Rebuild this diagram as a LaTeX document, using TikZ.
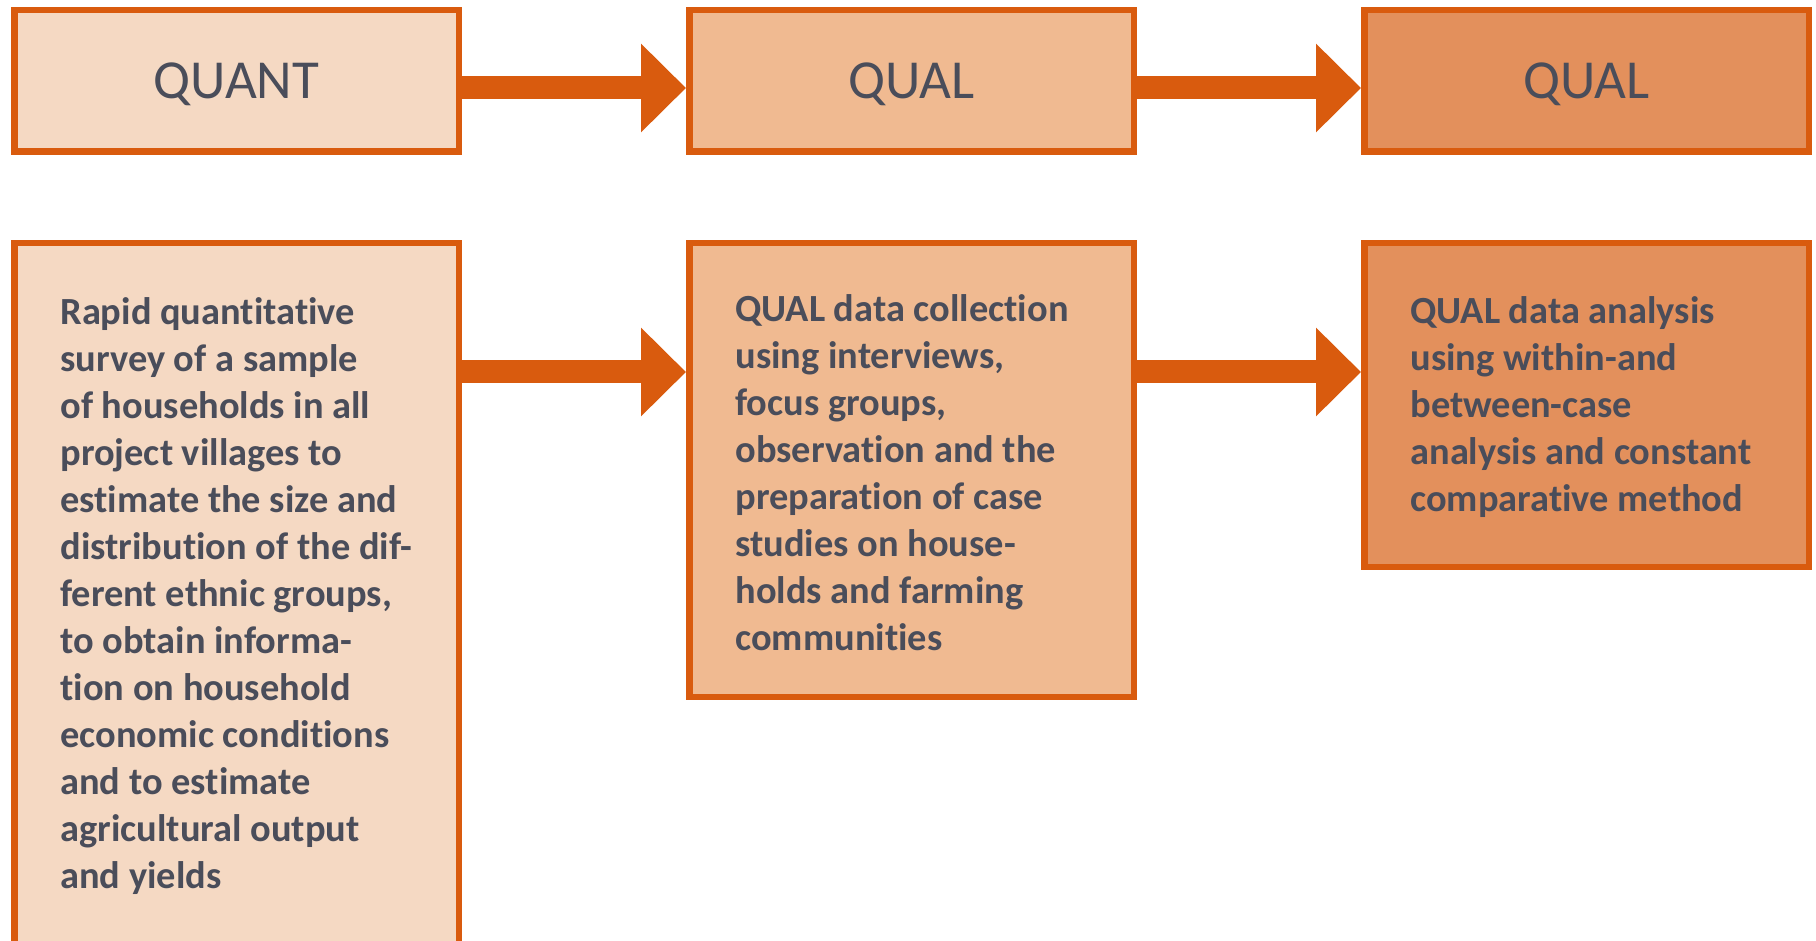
\documentclass[tikz,border=0pt]{standalone}
\usepackage{fontspec}
\setmainfont{Carlito}[Ligatures=NoCommon]
\usepackage{tikz}
\usetikzlibrary{arrows.meta,positioning}

\definecolor{borderorange}{RGB}{217,91,14}
\definecolor{quantfill}{RGB}{245,217,195}
\definecolor{qualfill}{RGB}{240,186,145}
\definecolor{analysisfill}{RGB}{227,144,92}
\definecolor{textgray}{RGB}{74,77,90}

\tikzset{
  phasebox/.style={draw=borderorange, line width=3.25pt, rectangle, inner sep=0pt,
    anchor=north west, minimum width=222.25pt},
  headbox/.style={phasebox, minimum height=70.75pt, text=textgray, text depth=0pt,
    font=\fontsize{27.5pt}{32pt}\selectfont},
  stepbody/.style={anchor=base west, inner sep=0pt, align=left, text=textgray,
    font=\bfseries\fontsize{19.2pt}{23.5pt}\selectfont},
  flowarrow/.style={draw=borderorange, line width=11.5pt,
    -{Triangle[length=22.5pt,width=43pt]}}
}

\begin{document}
\begin{tikzpicture}[x=0.5pt,y=-0.5pt]
\useasboundingbox (0,0) rectangle (1816,941);
\clip (0,0) rectangle (1816,941);
% top row
\node[headbox, fill=quantfill] (quant) at (11,7) {QUANT};
\node[headbox, fill=qualfill] (qualcoll) at (686,7) {QUAL};
\node[headbox, fill=analysisfill] (qualana) at (1361,7) {QUAL};
% bottom row
\node[phasebox, fill=quantfill, minimum height=381.25pt] (survey) at (11,240) {};
\node[phasebox, fill=qualfill, minimum height=226.75pt] (collect) at (686,240) {};
\node[phasebox, fill=analysisfill, minimum height=161.75pt] (analyse) at (1361,240) {};
% texts sit on the baseline of their last line
\node[stepbody] (surveytext) at ([xshift=24.5pt,yshift=-324pt]survey.north west) {
Rapid quantitative\\
survey of a sample\\
of households in all\\
project villages to\\
estimate the size and\\
distribution of the dif-\\
ferent ethnic groups,\\
to obtain informa-\\
tion on household\\
economic conditions\\
and to estimate\\
agricultural output\\
and yields};
\node[stepbody] (collecttext) at ([xshift=24.5pt,yshift=-205pt]collect.north west) {
QUAL data collection\\
using interviews,\\
focus groups,\\
observation and the\\
preparation of case\\
studies on house-\\
holds and farming\\
communities};
\node[stepbody] (analysetext) at ([xshift=24.5pt,yshift=-135.5pt]analyse.north west) {
QUAL data analysis\\
using within-and\\
between-case\\
analysis and constant\\
comparative method};
% arrows
\draw[flowarrow] ([yshift=-3.5pt]quant.east) -- ([yshift=-3.5pt]qualcoll.west);
\draw[flowarrow] ([yshift=-3.5pt]qualcoll.east) -- ([yshift=-3.5pt]qualana.west);
\draw[flowarrow] ([yshift=-66pt]survey.north east) -- ([yshift=-66pt]collect.north west);
\draw[flowarrow] ([yshift=-66pt]collect.north east) -- ([yshift=-66pt]analyse.north west);
\end{tikzpicture}
\end{document}
